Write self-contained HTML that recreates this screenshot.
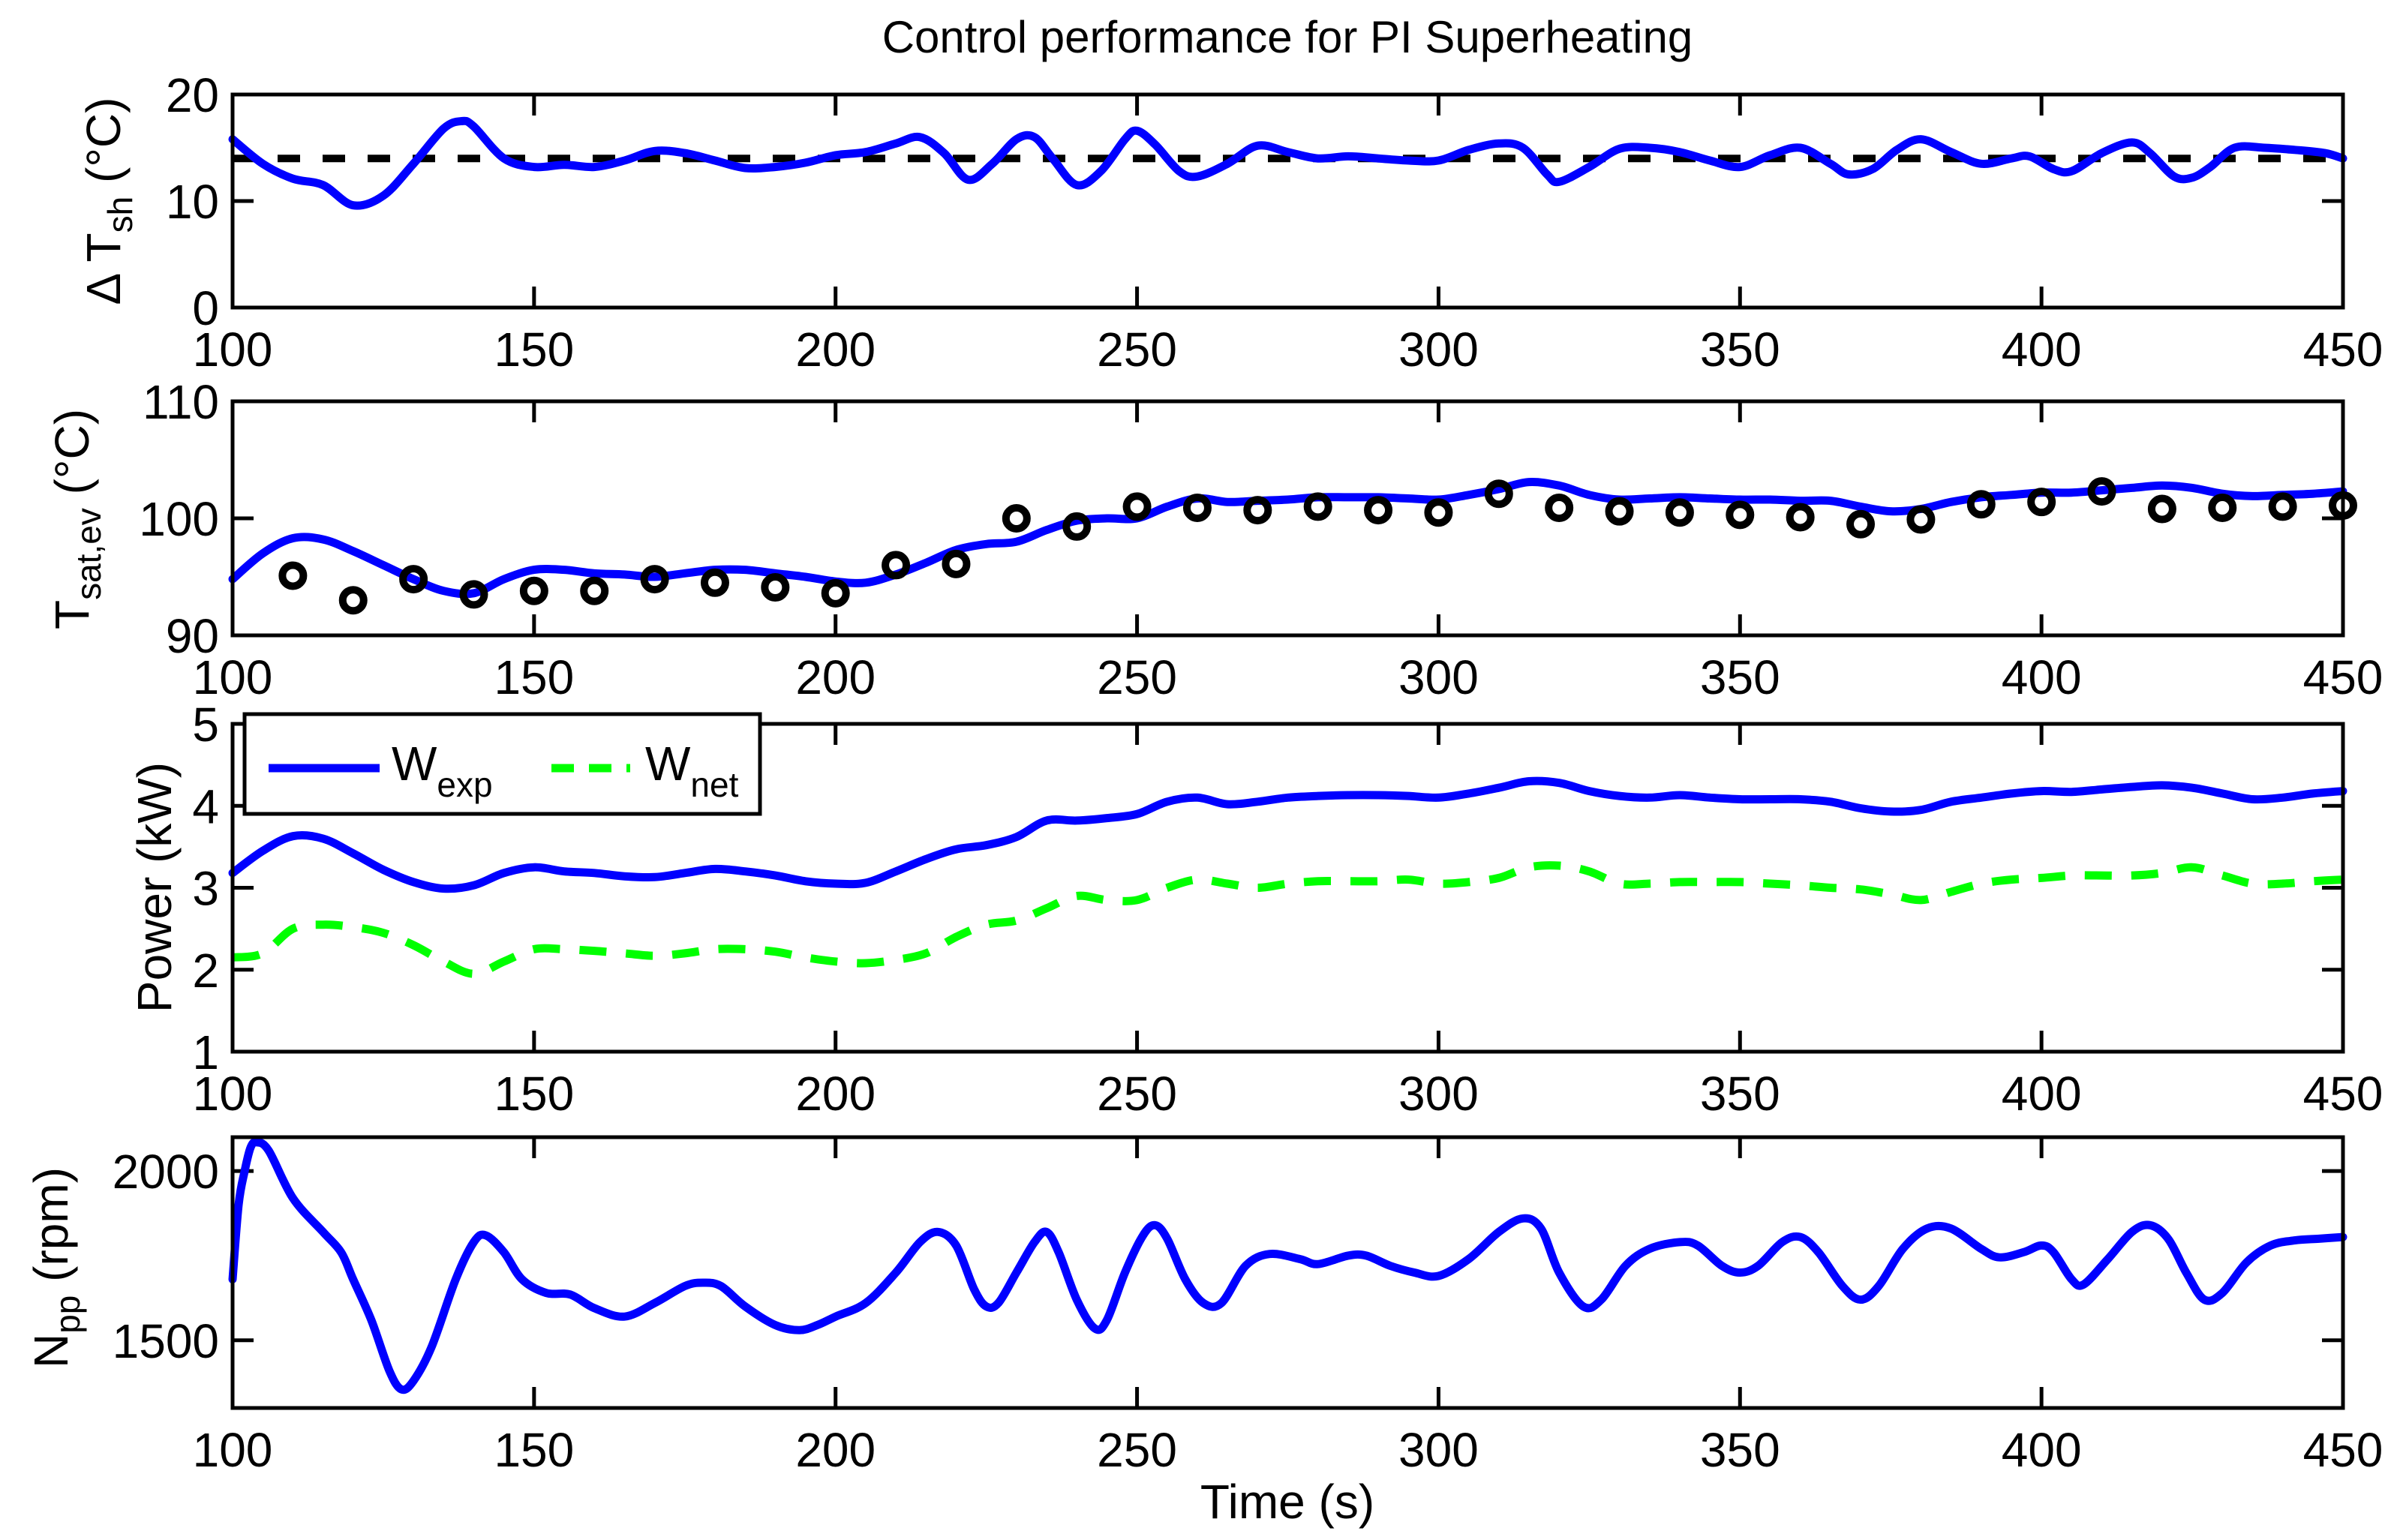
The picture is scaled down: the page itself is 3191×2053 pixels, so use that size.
<!DOCTYPE html>
<html><head><meta charset="utf-8"><style>
html,body{margin:0;padding:0;background:#fff}
svg{display:block;font-family:"Liberation Sans",Arial,sans-serif}
</style></head><body>
<svg id="fig" width="3191" height="2053" viewBox="0 0 3191 2053" xmlns="http://www.w3.org/2000/svg">
<rect width="3191" height="2053" fill="#fff"/>
<text x="1716" y="70" font-size="60" text-anchor="middle">Control performance for PI Superheating</text>
<text x="1716" y="2024" font-size="64" text-anchor="middle">Time (s)</text>
<text transform="translate(160,268) rotate(-90)" font-size="64" text-anchor="middle">Δ T<tspan font-size="46" dy="16">sh</tspan><tspan dy="-16"> (°C)</tspan></text>
<text transform="translate(118,692) rotate(-90)" font-size="64" text-anchor="middle">T<tspan font-size="46" dy="16">sat,ev</tspan><tspan dy="-16"> (°C)</tspan></text>
<text transform="translate(228,1183) rotate(-90)" font-size="64" text-anchor="middle">Power (kW)</text>
<text transform="translate(90,1690) rotate(-90)" font-size="64" text-anchor="middle">N<tspan font-size="46" dy="16">pp</tspan><tspan dy="-16"> (rpm)</tspan></text>
<g id="plots"></g>
</svg>
<script>
// ---- data ----
const dtT=[100,105,110,115,120,125,130,135,138,140,145,150,155,160,165,170,175,180,185,190,195,200,205,210,214,218,222,226,230,233,236,240,244,248,250,253,257,260,265,270,275,280,285,290,295,300,305,310,314,318,320,325,330,335,340,345,350,355,360,365,368,372,376,380,385,390,395,398,402,405,410,415,418,422,425,428,432,437,442,447,450];
const dtV=[15.8,13.5,12.1,11.5,9.6,10.5,13.5,16.8,17.5,17,14,13.2,13.4,13.2,13.8,14.7,14.5,13.8,13.1,13.2,13.6,14.3,14.6,15.4,16,14.5,12.0,13.5,15.8,16,14,11.5,12.8,15.8,16.6,15.3,12.8,12.3,13.5,15.2,14.6,14,14.2,14,13.8,13.8,14.8,15.4,15,12.5,11.8,13.2,14.9,15,14.6,13.8,13.2,14.3,15,13.5,12.5,13,14.8,15.8,14.6,13.5,14,14.2,13,12.8,14.5,15.5,14.5,12.3,12.2,13.2,15,15,14.8,14.5,14];
const dtSet=[14];
const tsT=[100,105,110,115,120,125,130,135,140,145,150,155,160,165,170,175,180,185,190,195,200,205,210,215,220,225,230,235,240,245,250,255,260,265,270,275,280,285,290,295,300,305,310,315,320,325,330,335,340,345,350,355,360,365,370,375,380,385,390,395,400,405,410,415,420,425,430,435,440,445,450];
const tsV=[94.8,97,98.3,98.2,97.2,96,94.8,93.8,93.6,94.8,95.6,95.6,95.3,95.2,95,95.3,95.6,95.6,95.3,95,94.6,94.5,95.2,96.2,97.3,97.8,98,99,99.8,100,100,101,101.7,101.4,101.5,101.6,101.8,101.8,101.8,101.7,101.6,102,102.5,103.1,102.8,102,101.6,101.7,101.8,101.7,101.6,101.6,101.5,101.5,101,100.6,100.8,101.4,101.8,102,102.2,102.2,102.4,102.6,102.8,102.6,102.1,101.9,102,102.1,102.3];
const expT=[110,120,130,140,150,160,170,180,190,200,210,220,230,240,250,260,270,280,290,300,310,320,330,340,350,360,370,380,390,400,410,420,430,440,450];
const expV=[95.1,93,94.8,93.5,93.8,93.8,94.8,94.5,94.1,93.6,96,96.1,100,99.3,101,100.9,100.7,101,100.7,100.5,102.1,100.9,100.6,100.5,100.3,100.1,99.5,99.9,101.2,101.4,102.3,100.8,100.9,101,101.1];
const pT=[100,105,110,115,120,125,130,135,140,145,150,155,160,165,170,175,180,185,190,195,200,205,210,215,220,225,230,235,240,245,250,255,260,265,270,275,280,285,290,295,300,305,310,315,320,325,330,335,340,345,350,355,360,365,370,375,380,385,390,395,400,405,410,415,420,425,430,435,440,445,450];
const wexpV=[3.18,3.45,3.63,3.6,3.42,3.22,3.07,2.99,3.03,3.18,3.25,3.2,3.18,3.14,3.13,3.18,3.23,3.2,3.15,3.08,3.05,3.06,3.2,3.35,3.47,3.52,3.62,3.82,3.82,3.85,3.9,4.05,4.1,4.02,4.05,4.1,4.12,4.13,4.13,4.12,4.1,4.15,4.22,4.3,4.28,4.18,4.12,4.1,4.13,4.1,4.08,4.08,4.08,4.05,3.97,3.93,3.95,4.05,4.1,4.15,4.18,4.17,4.2,4.23,4.25,4.22,4.15,4.08,4.1,4.15,4.18];
const wnetV=[2.15,2.2,2.5,2.55,2.52,2.45,2.3,2.1,1.95,2.1,2.25,2.25,2.23,2.2,2.17,2.2,2.25,2.25,2.22,2.15,2.1,2.08,2.12,2.2,2.4,2.55,2.6,2.75,2.9,2.85,2.85,3.0,3.1,3.05,3.0,3.05,3.08,3.08,3.08,3.1,3.05,3.07,3.12,3.25,3.27,3.2,3.05,3.05,3.07,3.07,3.07,3.05,3.03,3.0,2.98,2.92,2.85,2.95,3.05,3.1,3.12,3.15,3.15,3.15,3.18,3.25,3.15,3.05,3.05,3.08,3.1];
const nT=[100,101,102,103,104,106,110,115,118,120,123,126,128,130,133,137,140,142,145,148,152,156,160,165,170,175,178,181,185,190,194,197,200,205,210,214,217,220,223,225,227,230,233,235,237,240,243,245,248,251,253,255,258,261,264,268,272,277,280,285,288,292,296,300,305,310,314,317,320,324,327,331,335,340,343,347,350,353,357,360,363,367,370,373,377,381,385,390,393,397,400,402,405,407,411,415,418,421,424,427,430,434,438,442,446,450];
const nV=[1680,1900,2000,2070,2085,2060,1920,1820,1760,1680,1560,1410,1355,1380,1480,1680,1790,1810,1760,1680,1640,1635,1595,1570,1610,1660,1670,1660,1600,1545,1530,1545,1570,1610,1700,1790,1820,1780,1650,1600,1610,1700,1790,1820,1760,1620,1535,1560,1700,1810,1840,1800,1680,1610,1610,1720,1755,1740,1725,1750,1750,1720,1700,1690,1740,1820,1860,1830,1700,1600,1620,1720,1770,1790,1780,1720,1700,1720,1790,1805,1760,1660,1620,1660,1770,1830,1830,1770,1745,1760,1780,1760,1680,1665,1740,1820,1840,1800,1700,1620,1640,1730,1780,1795,1800,1805];
const xTicks=[100,150,200,250,300,350,400,450];
const yTicks1=[0,10,20], yTicks2=[90,100,110], yTicks3=[1,2,3,4,5], yTicks4=[1500,2000];

const NS='http://www.w3.org/2000/svg';
const G=document.getElementById('plots');
const X0=310,X1=3123;
const xs=t=>X0+(t-100)/350*(X1-X0);
function el(tag,attrs,parent){const e=document.createElementNS(NS,tag);for(const k in attrs)e.setAttribute(k,attrs[k]);(parent||G).appendChild(e);return e;}
function panel(name,top,bot,ymin,ymax,yt){
  const g=el('g',{});
  
  
  const ys=v=>bot-(v-ymin)/(ymax-ymin)*(bot-top);
  xTicks.forEach(t=>{
    const x=xs(t);
    el('line',{x1:x,x2:x,y1:bot,y2:bot-28,stroke:'#000','stroke-width':5},g);
    el('line',{x1:x,x2:x,y1:top,y2:top+28,stroke:'#000','stroke-width':5},g);
    const tx=el('text',{x:x,y:bot+78,'font-size':64,'text-anchor':'middle'},g);
    
    
    tx.textContent=t;
  });
  yt.forEach(v=>{
    const y=ys(v);
    el('line',{x1:X0,x2:X0+28,y1:y,y2:y,stroke:'#000','stroke-width':5},g);
    el('line',{x1:X1,x2:X1-28,y1:y,y2:y,stroke:'#000','stroke-width':5},g);
    const tx=el('text',{x:X0-18,y:y+23,'font-size':64,'text-anchor':'end'},g);
    
    
    tx.textContent=v;
  });
  return {g,ys,top,bot};
}
function smoothPath(P){
  let d='M'+P[0][0].toFixed(1)+','+P[0][1].toFixed(1);
  for(let i=0;i<P.length-1;i++){
    const p0=P[i-1]||P[i],p1=P[i],p2=P[i+1],p3=P[i+2]||P[i+1];
    const c1=[p1[0]+(p2[0]-p0[0])/6,p1[1]+(p2[1]-p0[1])/6];
    const c2=[p2[0]-(p3[0]-p1[0])/6,p2[1]-(p3[1]-p1[1])/6];
    d+=' C'+c1[0].toFixed(1)+','+c1[1].toFixed(1)+' '+c2[0].toFixed(1)+','+c2[1].toFixed(1)+' '+p2[0].toFixed(1)+','+p2[1].toFixed(1);
  }
  return d;
}
function line(p,T,V,color,name,dash){
  const P=T.map((t,i)=>[xs(t),p.ys(V[i])]);
  const a={d:smoothPath(P),fill:'none',stroke:color,'stroke-width':11,'stroke-linejoin':'round','stroke-linecap':dash?'butt':'round'};
  if(dash)a['stroke-dasharray']=dash;
  const l=el('path',a,p.g);
  
  
  return l;
}
function frame(p){
  const r=el('rect',{x:X0,y:p.top,width:X1-X0,height:p.bot-p.top,fill:'none',stroke:'#000','stroke-width':5},p.g);
  
  
}
// panel 1
const p1=panel('panel-superheat',126,410,0,20,yTicks1);
const sp=el('line',{x1:X0,x2:X1,y1:p1.ys(dtSet[0]),y2:p1.ys(dtSet[0]),stroke:'#000','stroke-width':10,'stroke-dasharray':'30 30'},p1.g);


line(p1,dtT,dtV,'#0000ff','superheat-line');
frame(p1);
// panel 2
const p2=panel('panel-tsat',535,847,90,110,yTicks2);
line(p2,tsT,tsV,'#0000ff','tsat-model-line');
expT.forEach((t,i)=>{
  const c=el('circle',{cx:xs(t),cy:p2.ys(expV[i]),r:14,fill:'none',stroke:'#000','stroke-width':10},p2.g);
  
  
});
frame(p2);
// panel 3
const p3=panel('panel-power',965,1402,1,5,yTicks3);
line(p3,pT,wexpV,'#0000ff','wexp-line');
line(p3,pT,wnetV,'#00ff00','wnet-line','36 26');
frame(p3);
const lg=el('g',{},p3.g);


el('rect',{x:326,y:952,width:687,height:133,fill:'#fff',stroke:'#000','stroke-width':5},lg);
el('line',{x1:358,x2:506,y1:1024,y2:1024,stroke:'#0000ff','stroke-width':11},lg);
el('line',{x1:735,x2:840,y1:1024,y2:1024,stroke:'#00ff00','stroke-width':11,'stroke-dasharray':'30 20'},lg);
const t1=el('text',{x:522,y:1040,'font-size':64},lg);


t1.innerHTML='W<tspan font-size="46" dy="22">exp</tspan>';
const t2=el('text',{x:860,y:1040,'font-size':64},lg);


t2.innerHTML='W<tspan font-size="46" dy="22">net</tspan>';
// panel 4
const p4=panel('panel-pump-speed',1516,1877,1300,2100,yTicks4);
line(p4,nT,nV,'#0000ff','pump-speed-line');
frame(p4);
</script>
</body></html>
